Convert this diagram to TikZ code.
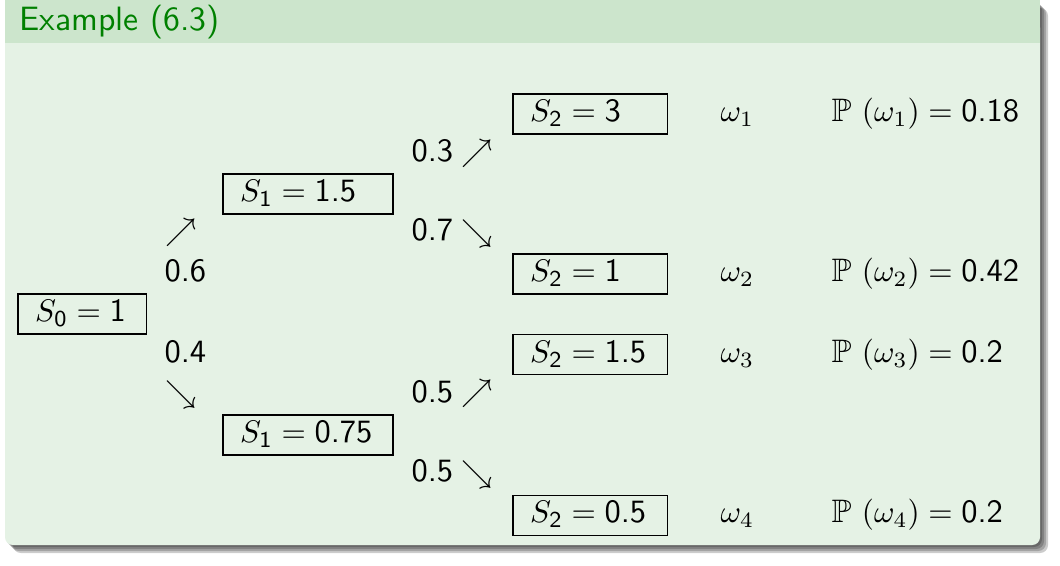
\documentclass[tikz,border=0pt]{standalone}
\usepackage{amsmath,amssymb}
\usepackage{xcolor}
\usepackage{tikz}
\usetikzlibrary{positioning}

\definecolor{extitle}{RGB}{0,128,0}
\definecolor{exhead}{RGB}{204,229,204}
\definecolor{exbody}{RGB}{229,242,229}

\newcommand{\sfn}[1]{\textsf{#1}}

\begin{document}
\begin{tikzpicture}[x=0.32pt,y=-0.32pt,font=\sffamily\fontsize{10.4}{13}\selectfont]
                \tikzset{price/.style={draw, thin, anchor=west, align=left, inner xsep=5.5pt, inner ysep=1.95pt, text height=6.9pt, text depth=2pt},
                         prob/.style={anchor=base west, inner sep=0pt},
                         tick/.style={inner sep=0pt}}

                \useasboundingbox (0,0) rectangle (1060,565);

                % block, shadow first
                \foreach \d in {2,4,6,8}
                    \fill[black, opacity=0.2, rounded corners=2.5pt] (5+\d,\d) rectangle (1040+\d,545+\d);
                \fill[exbody, rounded corners=2.5pt] (5,20) rectangle (1040,545);
                \fill[exhead] (5,0) rectangle (1040,43);
                \node[anchor=base west, inner sep=0pt, text=extitle, font=\sffamily\fontsize{10.8}{13}\selectfont] (title) at (19,30) {Example (6.3)};

                \node[price, text width=30.1pt] (s0) at (17.3,314) {\mbox{$S_{\sfn{0}} = \sfn{1}$}};
                \node[price, text width=43.4pt] (s1u) at (222.3,194) {\mbox{$S_{\sfn{1}} = \sfn{1.5}$}};
                \node[price, text width=43.4pt] (s1d) at (222.3,435) {\mbox{$S_{\sfn{1}} = \sfn{0.75}$}};
                \node[price, text width=38.4pt] (s2a) at (512.3,114) {\mbox{$S_{\sfn{2}} = \sfn{3}$}};
                \node[price, text width=38.4pt] (s2b) at (512.3,274) {\mbox{$S_{\sfn{2}} = \sfn{1}$}};
                \node[price, text width=38.4pt] (s2c) at (512.3,354.7) {\mbox{$S_{\sfn{2}} = \sfn{1.5}$}};
                \node[price, text width=38.4pt] (s2d) at (512.3,515.3) {\mbox{$S_{\sfn{2}} = \sfn{0.5}$}};

                \node[prob] (p06) at (164,281.7) {0.6};
                \node[tick] (a06) at (181,233) {$\nearrow$};
                \node[prob] (p04) at (164,362.3) {0.4};
                \node[tick] (a04) at (181,394.5) {$\searrow$};

                \node[prob] (p03) at (411,161.7) {0.3};
                \node[tick] (a03) at (477.5,153.5) {$\nearrow$};
                \node[prob] (p07) at (411,240) {0.7};
                \node[tick] (a07) at (477.5,234) {$\searrow$};
                \node[prob] (p05u) at (411,402) {0.5};
                \node[tick] (a05u) at (477.5,394) {$\nearrow$};
                \node[prob] (p05d) at (411,481.7) {0.5};
                \node[tick] (a05d) at (477.5,474.5) {$\searrow$};

                \node[prob] (w1) at (720,0 |- s2a.base) {$\omega_1$};
                \node[prob] (w2) at (720,0 |- s2b.base) {$\omega_2$};
                \node[prob] (w3) at (720,0 |- s2c.base) {$\omega_3$};
                \node[prob] (w4) at (720,0 |- s2d.base) {$\omega_4$};

                \node[prob] (pw1) at (831,0 |- s2a.base) {$\mathbb{P}\,\left(\omega_1\right) = \sfn{0.18}$};
                \node[prob] (pw2) at (831,0 |- s2b.base) {$\mathbb{P}\,\left(\omega_2\right) = \sfn{0.42}$};
                \node[prob] (pw3) at (831,0 |- s2c.base) {$\mathbb{P}\,\left(\omega_3\right) = \sfn{0.2}$};
                \node[prob] (pw4) at (831,0 |- s2d.base) {$\mathbb{P}\,\left(\omega_4\right) = \sfn{0.2}$};
\end{tikzpicture}
\end{document}
